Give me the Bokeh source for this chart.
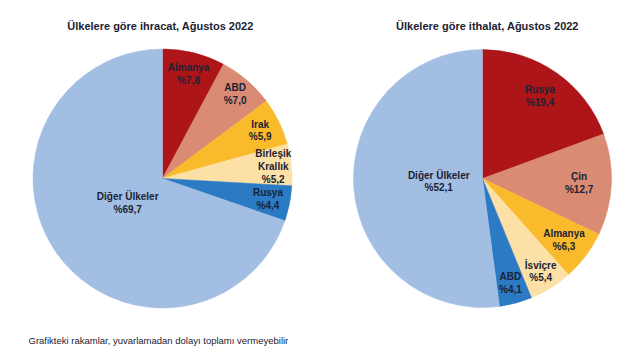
import math
from bokeh.plotting import figure
from bokeh.models import Range1d, ColumnDataSource, Label
from bokeh.core.properties import value
from bokeh.embed import file_html
from bokeh.resources import INLINE

# ---- data ----
exp_countries = ["Almanya", "ABD", "Irak", "Birleşik\nKrallık", "Rusya", "Diğer Ülkeler"]
exp_shares = [7.8, 7.0, 5.9, 5.2, 4.4, 69.7]
imp_countries = ["Rusya", "Çin", "Almanya", "İsviçre", "ABD", "Diğer Ülkeler"]
imp_shares = [19.4, 12.7, 6.3, 5.4, 4.1, 52.1]
exp_title = "Ülkelere göre ihracat, Ağustos 2022"
imp_title = "Ülkelere göre ithalat, Ağustos 2022"
note = "Grafikteki rakamlar, yuvarlamadan dolayı toplamı vermeyebilir"

# ---- style ----
exp_colors = ["#AD1519", "#D98B74", "#F9BB2C", "#FCE0A6", "#2B7BC4", "#A3BEE3"]
imp_colors = ["#AD1519", "#D98B74", "#F9BB2C", "#FCE0A6", "#2B7BC4", "#A3BEE3"]
exp_label_r = [0.83, 0.86, 0.84, 0.86, 0.83, 0.33]
imp_label_r = [0.78, 0.75, 0.79, 0.85, 0.84, 0.34]
TXT = "#1B2233"
FONT = "Liberation Sans"

W, H = 635, 354
p = figure(width=W, height=H, x_range=Range1d(0, W), y_range=Range1d(-H, 0),
           output_backend="svg", toolbar_location=None, min_border=0)
p.axis.visible = False
p.grid.visible = False
p.outline_line_color = None
p.background_fill_color = "white"
p.border_fill_color = "white"


def draw_pie(cx, cy, R, names, shares, colors, lr):
    total = sum(shares)
    starts, ends, lx, ly, texts = [], [], [], [], []
    cum = 0.0
    for n, s, f in zip(names, shares, lr):
        a0 = math.pi / 2 - cum / total * 2 * math.pi
        a1 = math.pi / 2 - (cum + s) / total * 2 * math.pi
        mid = (a0 + a1) / 2
        starts.append(a0)
        ends.append(a1)
        lx.append(cx + f * R * math.cos(mid))
        ly.append(cy + f * R * math.sin(mid))
        texts.append(n + "\n%" + f"{s:.1f}".replace(".", ","))
        cum += s
    src = ColumnDataSource(dict(x=[cx] * len(shares), y=[cy] * len(shares),
                                start=starts, end=ends, color=colors))
    p.wedge(x="x", y="y", radius=R, start_angle="start", end_angle="end",
            direction="clock", fill_color="color", line_color="color",
            line_width=0.5, source=src)
    tsrc = ColumnDataSource(dict(x=lx, y=ly, t=texts))
    p.text(x="x", y="y", text="t", source=tsrc, text_align="center",
           text_baseline="middle", text_font=value(FONT), text_font_style="bold",
           text_font_size="10px", text_line_height=1.15, text_color=TXT)


draw_pie(162, -178, 129.5, exp_countries, exp_shares, exp_colors, exp_label_r)
draw_pie(482, -178, 129, imp_countries, imp_shares, imp_colors, imp_label_r)

for x, t in [(160, exp_title), (487, imp_title)]:
    p.add_layout(Label(x=x, y=-25, text=t, text_align="center", text_baseline="middle",
                       text_font=FONT, text_font_style="bold", text_font_size="11px",
                       text_color=TXT))
p.add_layout(Label(x=28, y=-340, text=note, text_align="left", text_baseline="middle",
                   text_font=FONT, text_font_size="9.5px", text_color=TXT))

open("out.html", "w").write(file_html(p, INLINE))
